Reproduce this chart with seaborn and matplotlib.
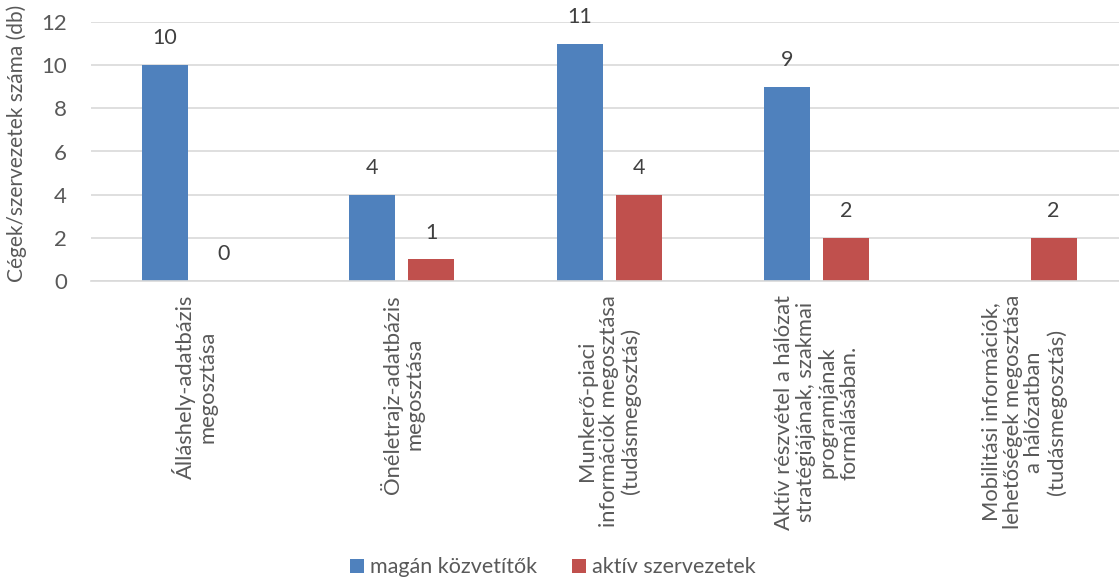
import numpy as np
import pandas as pd
import matplotlib
matplotlib.use("Agg")
import matplotlib.pyplot as plt
import seaborn as sns
from matplotlib.patches import Patch

categories = [
    "Álláshely-adatbázis\nmegosztása",
    "Önéletrajz-adatbázis\nmegosztása",
    "Munkerő-piaci\ninformációk megosztása\n(tudásmegosztás)",
    "Aktív részvétel a hálózat\nstratégiájának, szakmai\nprogramjának\nformálásában.",
    "Mobilitási információk,\nlehetőségek megosztása\na hálózatban\n(tudásmegosztás)",
]
series_names = ["magán közvetítők", "aktív szervezetek"]
magan = [10, 4, 11, 9, np.nan]
aktiv = [0, 1, 4, 2, 2]
yticks = [0, 2, 4, 6, 8, 10, 12]
colors = ["#4F81BD", "#C0504D"]

df = pd.DataFrame({
    "kategoria": categories * 2,
    "sorozat": [series_names[0]] * len(categories) + [series_names[1]] * len(categories),
    "ertek": list(magan) + list(aktiv),
})

sns.set_theme(style="white")
plt.rcParams["font.family"] = ["Lato", "DejaVu Sans"]
text_color = "#404040"
tick_color = "#595959"

fig = plt.figure(figsize=(11.19, 5.88), dpi=100)
ax = fig.add_axes([90.7 / 1119, 1 - 281 / 588, (1119 - 90.7) / 1119, 259 / 588])

sns.barplot(data=df, x="kategoria", y="ertek", hue="sorozat", order=categories,
            hue_order=series_names, palette=colors, width=0.57, gap=0.22,
            linewidth=0, saturation=1, ax=ax, legend=False)

for cont in ax.containers:
    ax.bar_label(cont, fmt="%g", padding=12, fontsize=15.5, color=text_color)

ax.set_xlim(-0.5, -0.5 + (1119 - 90.7) / 207.4)
ax.set_ylim(0, 12)
ax.set_yticks(yticks)
ax.set_yticklabels([str(t) for t in yticks], fontsize=16, color=tick_color)
ax.set_xlabel("")
ax.set_ylabel("Cégek/szervezetek száma (db)", fontsize=15, color=tick_color, labelpad=5)
ax.yaxis.set_label_coords(-0.062, 0.53)
ax.yaxis.grid(True, color="#D9D9D9", linewidth=1.2)
ax.set_axisbelow(True)
for s in ["left", "right", "top"]:
    ax.spines[s].set_visible(False)
ax.spines["bottom"].set_color("#D9D9D9")
ax.spines["bottom"].set_linewidth(1.2)
ax.tick_params(axis="y", length=0, pad=17)
ax.set_xticks(range(len(categories)))
ax.set_xticklabels(categories, rotation=90, fontsize=15.8, color=tick_color,
                   ha="center", va="top", multialignment="center", linespacing=1.1)
ax.tick_params(axis="x", length=0, pad=10)

handles = [Patch(facecolor=c, edgecolor="none") for c in colors]
fig.legend(handles, series_names, loc="lower center", bbox_to_anchor=(0.494, -0.015),
           ncol=2, frameon=False, fontsize=15.5, handlelength=0.65, handleheight=0.65,
           handletextpad=0.3, columnspacing=1.6, labelcolor=tick_color)

fig.savefig("out.png", dpi=100)
